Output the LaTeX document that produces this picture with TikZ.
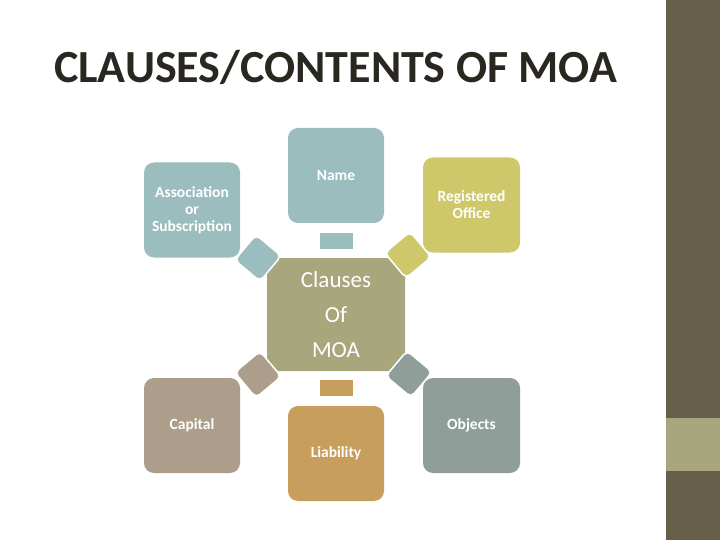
\documentclass[tikz,border=0pt]{standalone}
\usepackage{fontspec}
\setmainfont{Carlito}
\definecolor{teal1}{HTML}{9BBDBE}
\definecolor{yel1}{HTML}{CFC86B}
\definecolor{mid1}{HTML}{A8A67C}
\definecolor{tan1}{HTML}{AC9E8A}
\definecolor{ora1}{HTML}{C89E5C}
\definecolor{gry1}{HTML}{8F9E98}
\definecolor{side1}{HTML}{665E48}
\definecolor{band1}{HTML}{A8A67E}
\definecolor{title1}{HTML}{2A2721}
\begin{document}
\begin{tikzpicture}[x=1pt,y=-1pt]
\tikzset{
 box/.style={rectangle, rounded corners=10pt, minimum width=96pt, minimum height=95pt, inner sep=0pt, align=center, text=white, font=\bfseries\fontsize{15.5}{17}\selectfont},
 gem/.style={rectangle, rounded corners=5pt, minimum size=33pt, inner sep=0pt, draw=white, line width=1.5pt},
 link/.style={rectangle, minimum width=33pt, minimum height=16pt, inner sep=0pt},
}
\useasboundingbox (0,0) rectangle (720,540);
\fill[white] (0,0) rectangle (720,540);
\fill[side1] (666,0) rectangle (720,540);
\fill[band1] (666,418) rectangle (720,471);
\node[anchor=base west, inner sep=0pt, text=title1, font=\bfseries\fontsize{46}{50}\selectfont] (title) at (54,83) {CLAUSES/CONTENTS OF MOA};
% center
\node[rectangle, rounded corners=4pt, fill=mid1, minimum width=138pt, minimum height=113pt, inner sep=0pt, align=center, text=white, font=\fontsize{23}{35}\selectfont] (center) at (336,314.5) {Clauses\\Of\\MOA};
% outer boxes
\node[box, fill=teal1] (name) at (336,175.5) {Name};
\node[box, fill=teal1] (assoc) at (192,210) {Association\\or\\Subscription};
\node[box, fill=yel1, minimum width=97pt] (reg) at (471.5,205) {Registered\\Office};
\node[box, fill=tan1] (cap) at (192,425.5) {Capital};
\node[box, fill=ora1] (liab) at (336,453.5) {Liability};
\node[box, fill=gry1, minimum width=97pt] (obj) at (471.5,425.5) {Objects};
% connectors
\node[link, fill=teal1] (l1) at (336,241) {};
\node[link, fill=ora1] (l2) at (336,388) {};
\node[gem, fill=teal1, rotate=-40] (g1) at (258,258) {};
\node[gem, fill=yel1, rotate=40] (g2) at (408,255) {};
\node[gem, fill=tan1, rotate=40] (g3) at (258,374.5) {};
\node[gem, fill=gry1, rotate=-40] (g4) at (409,374) {};
\end{tikzpicture}
\end{document}
